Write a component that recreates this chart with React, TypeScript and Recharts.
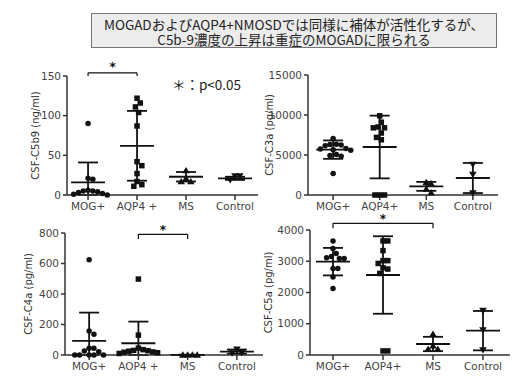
import React from 'react';
import {
  ScatterChart,
  Scatter,
  XAxis,
  YAxis,
  ErrorBar,
  ReferenceLine,
  ReferenceDot,
} from 'recharts';

// tick labels as printed in each panel
const GROUPS_C5B9 = ['MOG+', 'AQP4 +', 'MS', 'Control'];
const GROUPS_C3A = ['MOG+', 'AQP4+', 'MS', 'Control'];
const GROUPS_C4A = ['MOG+', 'AOP4 +', 'MS', 'Control'];
const GROUPS_C5A = ['MOG+', 'AOP4+', 'MS', 'Control'];

// CSF-C5b9 (ng/ml)
const C5B9_MOG = [90, 21, 20, 6, 5, 5, 4, 3, 2, 1, 0];
const C5B9_AQP4 = [122, 116, 111, 104, 87, 42, 37, 27, 17, 13, 11];
const C5B9_MS = [31, 21, 17, 17];
const C5B9_CTRL = [24, 24, 19];
const C5B9_MEAN = [16, 62, 23, 21];
const C5B9_SD = [25, 44, 6, 2];
const C5B9_TICKS = [0, 50, 100, 150];

// CSF-C3a (pg/ml)
const C3A_MOG = [7050, 6350, 6250, 6300, 6150, 5750, 5650, 5600, 5800, 4950, 4850, 5050, 2700];
const C3A_AQP4 = [9900, 9100, 8500, 8400, 8400, 7750, 7200, 6900, 0, 0, 0];
const C3A_MS = [1600, 1450, 750, 300];
const C3A_CTRL = [3800, 2550, 250];
const C3A_MEAN = [5670, 6000, 1080, 2125];
const C3A_SD = [1150, 3920, 560, 1880];
const C3A_TICKS = [0, 5000, 10000, 15000];

// CSF-C4a (pg/ml)
const C4A_MOG = [625, 158, 136, 44, 44, 26, 22, 0, 0, 0, 0, 0];
const C4A_AOP4 = [498, 130, 45, 35, 30, 28, 25, 20, 18, 15, 10];
const C4A_MS = [2, 1, 1, 2];
const C4A_CTRL = [38, 15, 12];
const C4A_MEAN = [92, 77, 1, 22];
const C4A_SD = [186, 142, 1, 14];
const C4A_TICKS = [0, 200, 400, 600, 800];

// CSF-C5a (pg/ml)
const C5A_MOG = [3650, 3410, 3250, 3150, 3090, 3110, 3090, 2770, 2770, 2500, 2130];
const C5A_AOP4 = [3650, 3650, 3340, 3020, 3020, 2930, 2750, 2790, 2610, 130, 130];
const C5A_MS = [670, 300, 190, 190];
const C5A_CTRL = [1420, 800, 160];
const C5A_MEAN = [2987, 2560, 352, 779];
const C5A_SD = [440, 1240, 230, 630];
const C5A_TICKS = [0, 1000, 2000, 3000, 4000];

const INK = '#111';
const AXIS = '#333';
const TEXT = '#444';
const FONT = '"DejaVu Sans", Verdana, sans-serif';
const DOT = 5.5;
const STEP = 1.6;
const GAP_X = 4.4;
const GAP_Y = 6.5;

// simple beeswarm: spreads points of one group sideways so they don't pile up
function swarm(values: number[], center: number, pxPerY: number, pxPerX: number) {
  const placed: { px: number; py: number }[] = [];
  const out: { x: number; y: number }[] = [];
  const order = values.map((_, i) => i).sort((a, b) => values[b] - values[a]);
  for (const i of order) {
    const py = values[i] * pxPerY;
    let off = 0;
    for (let k = 0; k < 80; k++) {
      const cand = (k % 2 === 1 ? 1 : -1) * Math.ceil(k / 2) * STEP;
      const free = placed.every(
        (p) => ((p.px - cand) / GAP_X) ** 2 + ((p.py - py) / GAP_Y) ** 2 >= 1,
      );
      if (free) {
        off = cand;
        break;
      }
    }
    placed.push({ px: off, py });
    out.push({ x: center + off / pxPerX, y: values[i] });
  }
  return out;
}

const Circle = (p: any) => <circle cx={p.cx} cy={p.cy} r={DOT / 2} fill={INK} />;
const Square = (p: any) => (
  <rect x={p.cx - DOT / 2} y={p.cy - DOT / 2} width={DOT} height={DOT} fill={INK} />
);
const TriUp = (p: any) => (
  <path d={`M${p.cx},${p.cy - 3.5}L${p.cx + 3.8},${p.cy + 2.8}L${p.cx - 3.8},${p.cy + 2.8}Z`} fill={INK} />
);
const TriDown = (p: any) => (
  <path d={`M${p.cx},${p.cy + 3.5}L${p.cx + 3.8},${p.cy - 2.8}L${p.cx - 3.8},${p.cy - 2.8}Z`} fill={INK} />
);
const MeanLine = (p: any) => (
  <line x1={p.cx - 17} x2={p.cx + 17} y1={p.cy} y2={p.cy} stroke={INK} strokeWidth={1.8} />
);
const Star = (p: any) => (
  <text
    x={p.cx}
    y={p.cy}
    dy="0.45em"
    textAnchor="middle"
    fill={INK}
    fontSize={12}
    fontWeight="bold"
    fontFamily={FONT}
  >
    *
  </text>
);

type Bracket = { from: number; to: number; y: number; drop: number; star: number };

type PanelProps = {
  left: number;
  top: number;
  width: number;
  height: number;
  marginTop: number;
  marginRight: number;
  axisWidth: number;
  plotHeight: number;
  xDomain: [number, number];
  groups: string[];
  series: number[][];
  mean: number[];
  sd: number[];
  ticks: number[];
  label: string;
  labelOffset: number;
  bracket?: Bracket;
};

const SHAPES = [Circle, Square, TriUp, TriDown];

function Panel(props: PanelProps) {
  const {
    left, top, width, height, marginTop, marginRight, axisWidth, plotHeight,
    xDomain, groups, series, mean, sd, ticks, label, labelOffset, bracket,
  } = props;
  const yMax = ticks[ticks.length - 1];
  const plotWidth = width - axisWidth - marginRight;
  const pxPerX = plotWidth / (xDomain[1] - xDomain[0]);
  const pxPerY = plotHeight / yMax;
  const xAxisHeight = height - marginTop - plotHeight;

  const summary = mean.map((m, i) => ({
    x: i + 1,
    y: m,
    err: [Math.min(m, sd[i]), sd[i]],
  }));

  const renderTick = (t: any) => (
    <text x={t.x} y={t.y} dy="0.8em" textAnchor="middle" fill={TEXT} fontSize={10.5} fontFamily={FONT}>
      {groups[Math.round(t.payload.value) - 1]}
    </text>
  );

  return (
    <div style={{ position: 'absolute', left, top, width, height }}>
      <ScatterChart
        width={width}
        height={height}
        margin={{ top: marginTop, right: marginRight, bottom: 0, left: 0 }}
      >
        <XAxis
          type="number"
          dataKey="x"
          domain={xDomain}
          ticks={[1, 2, 3, 4]}
          height={xAxisHeight}
          stroke={AXIS}
          strokeWidth={1.5}
          tickSize={5}
          tick={renderTick}
          interval={0}
        />
        <YAxis
          type="number"
          dataKey="y"
          domain={[0, yMax]}
          ticks={ticks}
          width={axisWidth}
          stroke={AXIS}
          strokeWidth={1.5}
          tickSize={4}
          tickMargin={2}
          interval={0}
          tick={{ fill: TEXT, fontSize: 10.5, fontFamily: FONT }}
          label={{
            value: label,
            angle: -90,
            position: 'insideLeft',
            offset: labelOffset,
            style: { textAnchor: 'middle', fill: AXIS, fontSize: 10, fontFamily: FONT },
          }}
        />
        {series.map((vals, i) => (
          <Scatter
            key={groups[i]}
            data={swarm(vals, i + 1, pxPerY, pxPerX)}
            shape={SHAPES[i]}
            isAnimationActive={false}
          />
        ))}
        <Scatter data={summary} shape={MeanLine} isAnimationActive={false}>
          <ErrorBar dataKey="err" direction="y" width={10} stroke={INK} strokeWidth={1.8} />
        </Scatter>
        {bracket && (
          <>
            <ReferenceLine
              segment={[{ x: bracket.from, y: bracket.y }, { x: bracket.to, y: bracket.y }]}
              stroke={INK}
              strokeWidth={1.2}
              ifOverflow="visible"
            />
            <ReferenceLine
              segment={[{ x: bracket.from, y: bracket.y }, { x: bracket.from, y: bracket.drop }]}
              stroke={INK}
              strokeWidth={1.2}
              ifOverflow="visible"
            />
            <ReferenceLine
              segment={[{ x: bracket.to, y: bracket.y }, { x: bracket.to, y: bracket.drop }]}
              stroke={INK}
              strokeWidth={1.2}
              ifOverflow="visible"
            />
            <ReferenceDot
              x={(bracket.from + bracket.to) / 2}
              y={bracket.star}
              ifOverflow="visible"
              shape={Star}
            />
          </>
        )}
      </ScatterChart>
    </div>
  );
}

const titleLine: React.CSSProperties = {
  position: 'absolute',
  left: 0,
  width: 404,
  textAlign: 'center',
  fontFamily: '"Noto Sans CJK JP", sans-serif',
  fontSize: 13.5,
  lineHeight: '15px',
  color: '#222',
  whiteSpace: 'nowrap',
};

export default function App() {
  return (
    <div
      style={{
        position: 'absolute',
        left: 0,
        top: 0,
        width: 530,
        height: 390,
        background: '#fff',
        fontFamily: FONT,
      }}
    >
      <div
        style={{
          position: 'absolute',
          left: 91,
          top: 13,
          width: 404,
          height: 33,
          background: '#ececec',
          border: '1px solid #777',
        }}
      >
        <div style={{ ...titleLine, top: 2.5 }}>MOGADおよびAQP4+NMOSDでは同様に補体が活性化するが、</div>
        <div style={{ ...titleLine, top: 18 }}>C5b-9濃度の上昇は重症のMOGADに限られる</div>
      </div>
      <Panel
        left={0}
        top={50}
        width={265}
        height={180}
        marginTop={26}
        marginRight={7}
        axisWidth={67}
        plotHeight={119}
        xDomain={[0.57, 4.47]}
        groups={GROUPS_C5B9}
        series={[C5B9_MOG, C5B9_AQP4, C5B9_MS, C5B9_CTRL]}
        mean={C5B9_MEAN}
        sd={C5B9_SD}
        ticks={C5B9_TICKS}
        label="CSF-C5b9 (ng/ml)"
        labelOffset={35}
        bracket={{ from: 1, to: 2, y: 154, drop: 150, star: 163 }}
      />
      <div
        style={{
          position: 'absolute',
          left: 172,
          top: 74,
          fontFamily: '"Noto Sans CJK JP", sans-serif',
          fontSize: 13.5,
          color: '#222',
          whiteSpace: 'nowrap',
        }}
      >
        ＊：p&lt;0.05
      </div>
      <Panel
        left={255}
        top={60}
        width={250}
        height={170}
        marginTop={15}
        marginRight={7}
        axisWidth={53}
        plotHeight={120}
        xDomain={[0.46, 4.54]}
        groups={GROUPS_C3A}
        series={[C3A_MOG, C3A_AQP4, C3A_MS, C3A_CTRL]}
        mean={C3A_MEAN}
        sd={C3A_SD}
        ticks={C3A_TICKS}
        label="CSF-C3a (pg/ml)"
        labelOffset={14}
      />
      <Panel
        left={0}
        top={215}
        width={265}
        height={175}
        marginTop={18}
        marginRight={2}
        axisWidth={65}
        plotHeight={122}
        xDomain={[0.51, 4.53]}
        groups={GROUPS_C4A}
        series={[C4A_MOG, C4A_AOP4, C4A_MS, C4A_CTRL]}
        mean={C4A_MEAN}
        sd={C4A_SD}
        ticks={C4A_TICKS}
        label="CSF-C4a (pg/ml)"
        labelOffset={28}
        bracket={{ from: 2, to: 3, y: 791, drop: 760, star: 831 }}
      />
      <Panel
        left={255}
        top={205}
        width={275}
        height={185}
        marginTop={25}
        marginRight={20}
        axisWidth={55}
        plotHeight={125}
        xDomain={[0.54, 4.54]}
        groups={GROUPS_C5A}
        series={[C5A_MOG, C5A_AOP4, C5A_MS, C5A_CTRL]}
        mean={C5A_MEAN}
        sd={C5A_SD}
        ticks={C5A_TICKS}
        label="CSF-C5a (pg/ml)"
        labelOffset={13}
        bracket={{ from: 1, to: 3, y: 4214, drop: 4053, star: 4390 }}
      />
    </div>
  );
}
